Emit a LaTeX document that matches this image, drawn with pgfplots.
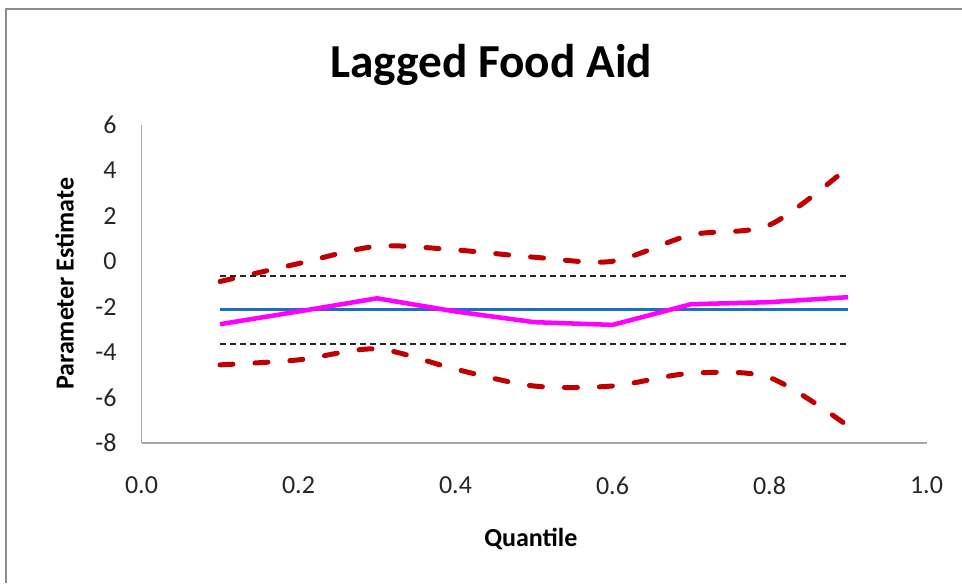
\documentclass[border=0pt]{standalone}
\usepackage{fontspec}
\setmainfont{Carlito}
\usepackage{pgfplots}
\pgfplotsset{compat=1.18}
\definecolor{dred}{HTML}{C00000}
\definecolor{mag}{HTML}{FF00FF}
\definecolor{eblue}{HTML}{1C6FC0}
\definecolor{axgray}{HTML}{A6A6A6}
\definecolor{framegray}{HTML}{8C8C8C}
\begin{document}
\begin{tikzpicture}
\useasboundingbox (0,0) rectangle (721.5pt,437.25pt);
\fill[white] (0,0) rectangle (721.5pt,437.25pt);
\draw[framegray, line width=1.4pt] (4.5pt,0) -- (4.5pt,430.5pt) -- (721.5pt,430.5pt);
\begin{axis}[
  at={(106.125pt,105pt)}, anchor=south west,
  scale only axis, width=588.75pt, height=238.5pt,
  xmin=0, xmax=1, ymin=-8, ymax=6,
  xtick={0,0.2,0.4,0.6,0.8,1.0},
  ytick={-8,-6,-4,-2,0,2,4,6},
  axis x line=bottom, axis y line=left,
  axis line style={-, axgray, line width=1.1pt},
  major tick length=0pt,
  /pgf/number format/assume math mode=true,
  xticklabel={\pgfmathprintnumber[fixed,fixed zerofill,precision=1]{\tick}},
  ticklabel style={font=\fontsize{19.5}{23}\selectfont, text=black!85},
  xticklabel style={anchor=north, inner sep=0pt, yshift=-25pt},
  yticklabel style={anchor=east, inner sep=0pt, xshift=-18.5pt},
  title={\textbf{Lagged Food Aid}},
  title style={font=\fontsize{35.5}{42}\selectfont, at={(axis description cs:0.4455,1.123)}, anchor=base},
  xlabel={\textbf{Quantile}},
  xlabel style={font=\fontsize{19.5}{23}\selectfont, at={(axis description cs:0.496,-0.327)}, anchor=base},
  ylabel={\textbf{Parameter Estimate}},
  ylabel style={font=\fontsize{19.5}{23}\selectfont, at={(axis description cs:-0.098,0.501)}, anchor=center, rotate=0},
  clip=false,
]
% upper confidence (smoothed)
\addplot[dred, line width=3.75pt, line cap=round, dash pattern=on 9.75pt off 16.5pt, smooth, tension=0.5] coordinates {
(0.1,-0.89) (0.2,-0.10) (0.3,0.66) (0.4,0.50) (0.5,0.18) (0.6,0.00) (0.7,1.16) (0.8,1.60) (0.9,4.13)};
% lower confidence (smoothed)
\addplot[dred, line width=3.75pt, line cap=round, dash pattern=on 9.75pt off 16.5pt, smooth, tension=0.5] coordinates {
(0.1,-4.56) (0.2,-4.34) (0.3,-3.86) (0.4,-4.75) (0.5,-5.49) (0.6,-5.49) (0.7,-4.93) (0.8,-5.12) (0.9,-7.25)};
% OLS bounds
\addplot[black!85, line width=1.5pt, dash pattern=on 4.5pt off 3pt] coordinates {(0.1,-0.63) (0.9,-0.63)};
\addplot[black!85, line width=1.5pt, dash pattern=on 4.5pt off 3pt] coordinates {(0.1,-3.65) (0.9,-3.65)};
% OLS estimate
\addplot[eblue, line width=2.3pt] coordinates {(0.1,-2.13) (0.9,-2.13)};
% quantile estimates
\addplot[mag, line width=3.4pt, line join=round] coordinates {
(0.1,-2.77) (0.2,-2.21) (0.3,-1.63) (0.4,-2.21) (0.5,-2.68) (0.6,-2.80) (0.7,-1.89) (0.8,-1.80) (0.9,-1.58)};
\end{axis}
\end{tikzpicture}
\end{document}
